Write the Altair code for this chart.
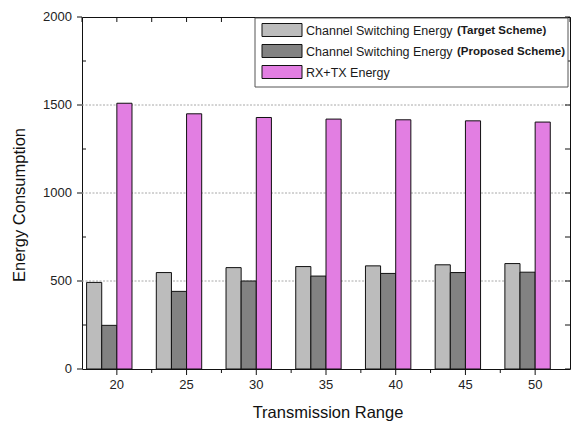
import altair as alt
import pandas as pd

# ---------------- data ----------------
ranges = [20, 25, 30, 35, 40, 45, 50]
target = [492, 548, 576, 582, 586, 592, 599]
proposed = [248, 441, 500, 528, 543, 548, 550]
rxtx = [1510, 1450, 1429, 1420, 1416, 1410, 1403]

series = ["Target", "Proposed", "RXTX"]
series_values = {"Target": target, "Proposed": proposed, "RXTX": rxtx}
series_colors = ["#bcbcbc", "#828282", "#e27ee2"]

y_major = [0, 500, 1000, 1500, 2000]
y_grid = [500, 1000, 1500]
y_minor = [250, 750, 1250, 1750]
y_right = [0, 250, 500, 750, 1000, 1250, 1500, 1750, 2000]
x_top = [17.5, 20, 22.5, 25, 27.5, 30, 32.5, 35, 37.5, 40, 42.5, 45, 47.5, 50, 52.5]
x_minor = [22.5, 27.5, 32.5, 37.5, 42.5, 47.5]

x_title = "Transmission Range"
y_title = "Energy Consumption"
legend_normal = ["Channel Switching Energy", "Channel Switching Energy", "RX+TX Energy"]
legend_bold = ["(Target Scheme)", "(Proposed Scheme)", ""]

# ---------------- layout / style ----------------
W, H = 488, 352
XMIN, XMAX = 17.5, 52.5
YMAX = 2000
UNIT = W / (XMAX - XMIN)          # px per x unit
BAR_W_PX = 15.13
BW = BAR_W_PX / UNIT              # bar width in x units
FONT = "Liberation Sans"

rows = []
for i, s in enumerate(series):
    for r, v in zip(ranges, series_values[s]):
        rows.append({"range": r, "series": s, "idx": i, "value": v})
df = pd.DataFrame(rows)

x_scale = alt.Scale(domain=[XMIN, XMAX], nice=False, zero=False)
y_scale = alt.Scale(domain=[0, YMAX], nice=False, zero=True)

# ---------------- grid ----------------
grid = alt.Chart(pd.DataFrame({"v": y_grid})).mark_rule(
    color="#a8a8a8", strokeWidth=1, strokeDash=[2, 1.5]
).encode(y=alt.Y("v:Q", scale=y_scale, axis=None), x=alt.value(0), x2=alt.value(W))

# ---------------- bars ----------------
bars = (
    alt.Chart(df)
    .transform_calculate(
        x0=f"datum.range + (datum.idx - 2) * {BW}",
        x1=f"datum.range + (datum.idx - 1) * {BW}",
    )
    .mark_bar(stroke="#111111", strokeWidth=1)
    .encode(
        x=alt.X("x0:Q", scale=x_scale, axis=None),
        x2="x1:Q",
        y=alt.Y("value:Q", scale=y_scale, axis=None),
        y2=alt.datum(0),
        color=alt.Color("series:N", scale=alt.Scale(domain=series, range=series_colors), legend=None),
    )
)

# ---------------- hand-drawn axes (ticks + labels + titles) ----------------
tick_style = dict(color="#111111", strokeWidth=1)
ymaj_df = pd.DataFrame({"v": y_major, "lab": [str(v) for v in y_major]})
xmaj_df = pd.DataFrame({"t": ranges, "lab": [str(r) for r in ranges]})

y_ticks = alt.Chart(ymaj_df).mark_rule(**tick_style).encode(
    y=alt.Y("v:Q", scale=y_scale, axis=None), x=alt.value(-5), x2=alt.value(0)
)
y_labels = alt.Chart(ymaj_df).mark_text(
    align="right", baseline="middle", font=FONT, fontSize=13, color="#222222"
).encode(y=alt.Y("v:Q", scale=y_scale, axis=None), x=alt.value(-10), text="lab:N")
x_ticks = alt.Chart(xmaj_df).mark_rule(**tick_style).encode(
    x=alt.X("t:Q", scale=x_scale, axis=None), y=alt.value(H), y2=alt.value(H + 6)
)
x_labels = alt.Chart(xmaj_df).mark_text(
    align="center", baseline="middle", font=FONT, fontSize=13, color="#222222"
).encode(x=alt.X("t:Q", scale=x_scale, axis=None), y=alt.value(H + 16), text="lab:N")

one = pd.DataFrame({"a": [0]})
x_title_mark = alt.Chart(one).mark_text(
    text=x_title, align="center", baseline="middle", font=FONT, fontSize=16.5, color="#111111"
).encode(x=alt.value(W / 2 + 2), y=alt.value(H + 44))
y_title_mark = alt.Chart(one).mark_text(
    text=y_title, align="center", baseline="middle", font=FONT, fontSize=16.5, color="#111111", angle=270
).encode(x=alt.value(-62), y=alt.value(H / 2 + 12))

left_minor = alt.Chart(pd.DataFrame({"v": y_minor})).mark_rule(**tick_style).encode(
    y=alt.Y("v:Q", scale=y_scale, axis=None), x=alt.value(0), x2=alt.value(4)
)
right_ticks = alt.Chart(pd.DataFrame({"v": y_right})).mark_rule(**tick_style).encode(
    y=alt.Y("v:Q", scale=y_scale, axis=None), x=alt.value(W - 5), x2=alt.value(W)
)
top_ticks = alt.Chart(pd.DataFrame({"t": x_top})).mark_rule(**tick_style).encode(
    x=alt.X("t:Q", scale=x_scale, axis=None), y=alt.value(0), y2=alt.value(5)
)
bottom_minor = alt.Chart(pd.DataFrame({"t": x_minor})).mark_rule(**tick_style).encode(
    x=alt.X("t:Q", scale=x_scale, axis=None), y=alt.value(H), y2=alt.value(H + 4)
)

# ---------------- legend ----------------
LX0, LX1, LY0, LY1 = 173, 486, 1, 70
legend_box = alt.Chart(one).mark_rect(fill="white", stroke="#555555", strokeWidth=1).encode(
    x=alt.value(LX0), x2=alt.value(LX1), y=alt.value(LY0), y2=alt.value(LY1)
)
legend_layers = [legend_box]
row_centers = [13, 34, 55]
SW_X0, SW_W, SW_H = 180, 40, 13
for i, s in enumerate(series):
    cy = row_centers[i]
    legend_layers.append(
        alt.Chart(one).mark_rect(fill=series_colors[i], stroke="#111111", strokeWidth=1).encode(
            x=alt.value(SW_X0), x2=alt.value(SW_X0 + SW_W),
            y=alt.value(cy - SW_H / 2), y2=alt.value(cy + SW_H / 2),
        )
    )
    legend_layers.append(
        alt.Chart(one).mark_text(
            text=legend_normal[i], align="left", baseline="middle",
            font=FONT, fontSize=12.5, color="#1a1a1a",
        ).encode(x=alt.value(224), y=alt.value(cy + 0.5))
    )
    if legend_bold[i]:
        legend_layers.append(
            alt.Chart(one).mark_text(
                text=legend_bold[i], align="left", baseline="middle",
                font=FONT, fontSize=11.5, fontWeight="bold", color="#1a1a1a",
            ).encode(x=alt.value(375), y=alt.value(cy + 0.5))
        )

chart = (
    alt.layer(
        grid, bars,
        y_ticks, y_labels, x_ticks, x_labels, x_title_mark, y_title_mark,
        left_minor, right_ticks, top_ticks, bottom_minor,
        *legend_layers,
    )
    .properties(
        width=W,
        height=H,
        autosize="none",
        padding={"left": 74, "top": 9, "right": 3, "bottom": 56},
        background="white",
    )
    .configure_view(stroke="#111111", strokeWidth=1)
)

chart.save("out.html", embed_options={"renderer": "svg", "actions": False})
